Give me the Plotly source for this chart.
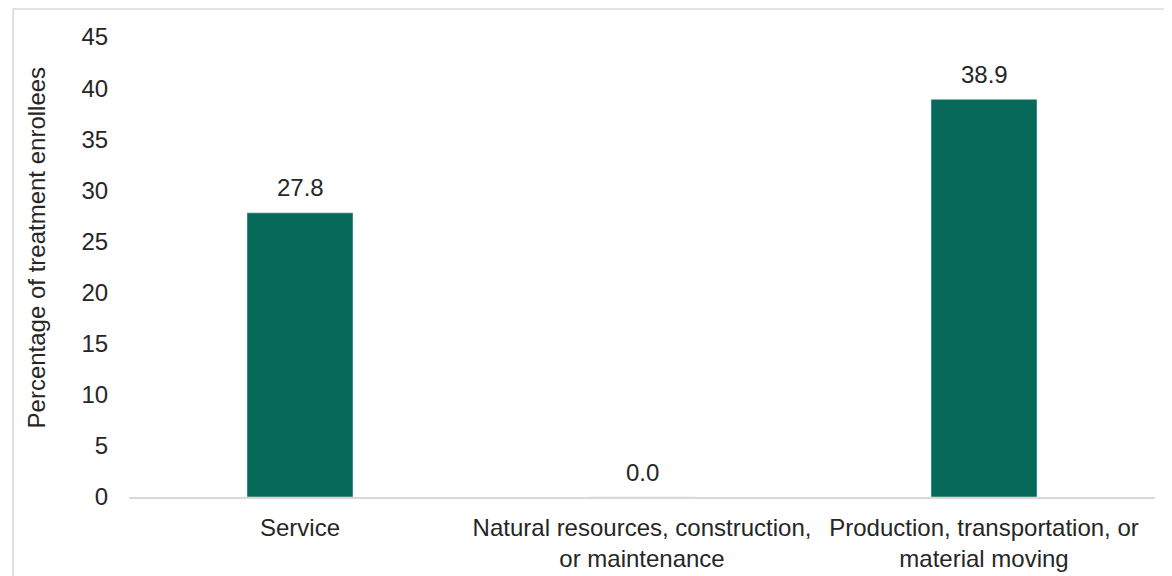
import plotly.graph_objects as go

# data
categories = ['Service',
              'Natural resources, construction,<br>or maintenance',
              'Production, transportation, or<br>material moving']
values = [27.8, 0.0, 38.9]
ytick_vals = [0, 5, 10, 15, 20, 25, 30, 35, 40, 45]

font_family = 'Liberation Sans, Arial, sans-serif'
text_color = '#262626'
fsize = 24

fig = go.Figure()
fig.add_trace(go.Bar(
    x=categories,
    y=values,
    marker_color='#07695A',
    width=0.31,
    hoverinfo='skip'))

# value labels above bars
for cat, val in zip(categories, values):
    fig.add_annotation(x=cat, y=val, text=f'{val:.1f}', showarrow=False,
                       yanchor='middle', yshift=25,
                       font=dict(size=fsize, color=text_color, family=font_family))

# y axis title (placed a bit above the plot centre, as in the original)
fig.add_annotation(text='Percentage of treatment enrollees', textangle=-90,
                   xref='paper', yref='paper', x=-0.0897, y=0.5424,
                   xanchor='center', yanchor='middle', showarrow=False,
                   font=dict(size=fsize, color=text_color, family=font_family))

# light grey frame around the chart
fig.add_shape(type='rect', xref='paper', yref='paper',
              x0=-0.113, x1=1.2, y0=-0.4, y1=1.061,
              line=dict(color='#D9D9D9', width=1.5), layer='below')

fig.update_layout(
    width=1172, height=576,
    margin=dict(l=121, r=25, t=29, b=87),
    plot_bgcolor='white', paper_bgcolor='white',
    font=dict(family=font_family, size=fsize, color=text_color),
    showlegend=False,
    xaxis=dict(range=[-0.5, 2.5], showline=True, linecolor='#D9D9D9', linewidth=1.5,
               ticks='outside', ticklen=8, tickcolor='rgba(0,0,0,0)',
               showgrid=False, zeroline=False),
    yaxis=dict(range=[0, 45], tickvals=ytick_vals, showgrid=False, zeroline=False,
               ticks='outside', ticklen=15, tickcolor='rgba(0,0,0,0)'),
)

fig.write_html('out.html')
